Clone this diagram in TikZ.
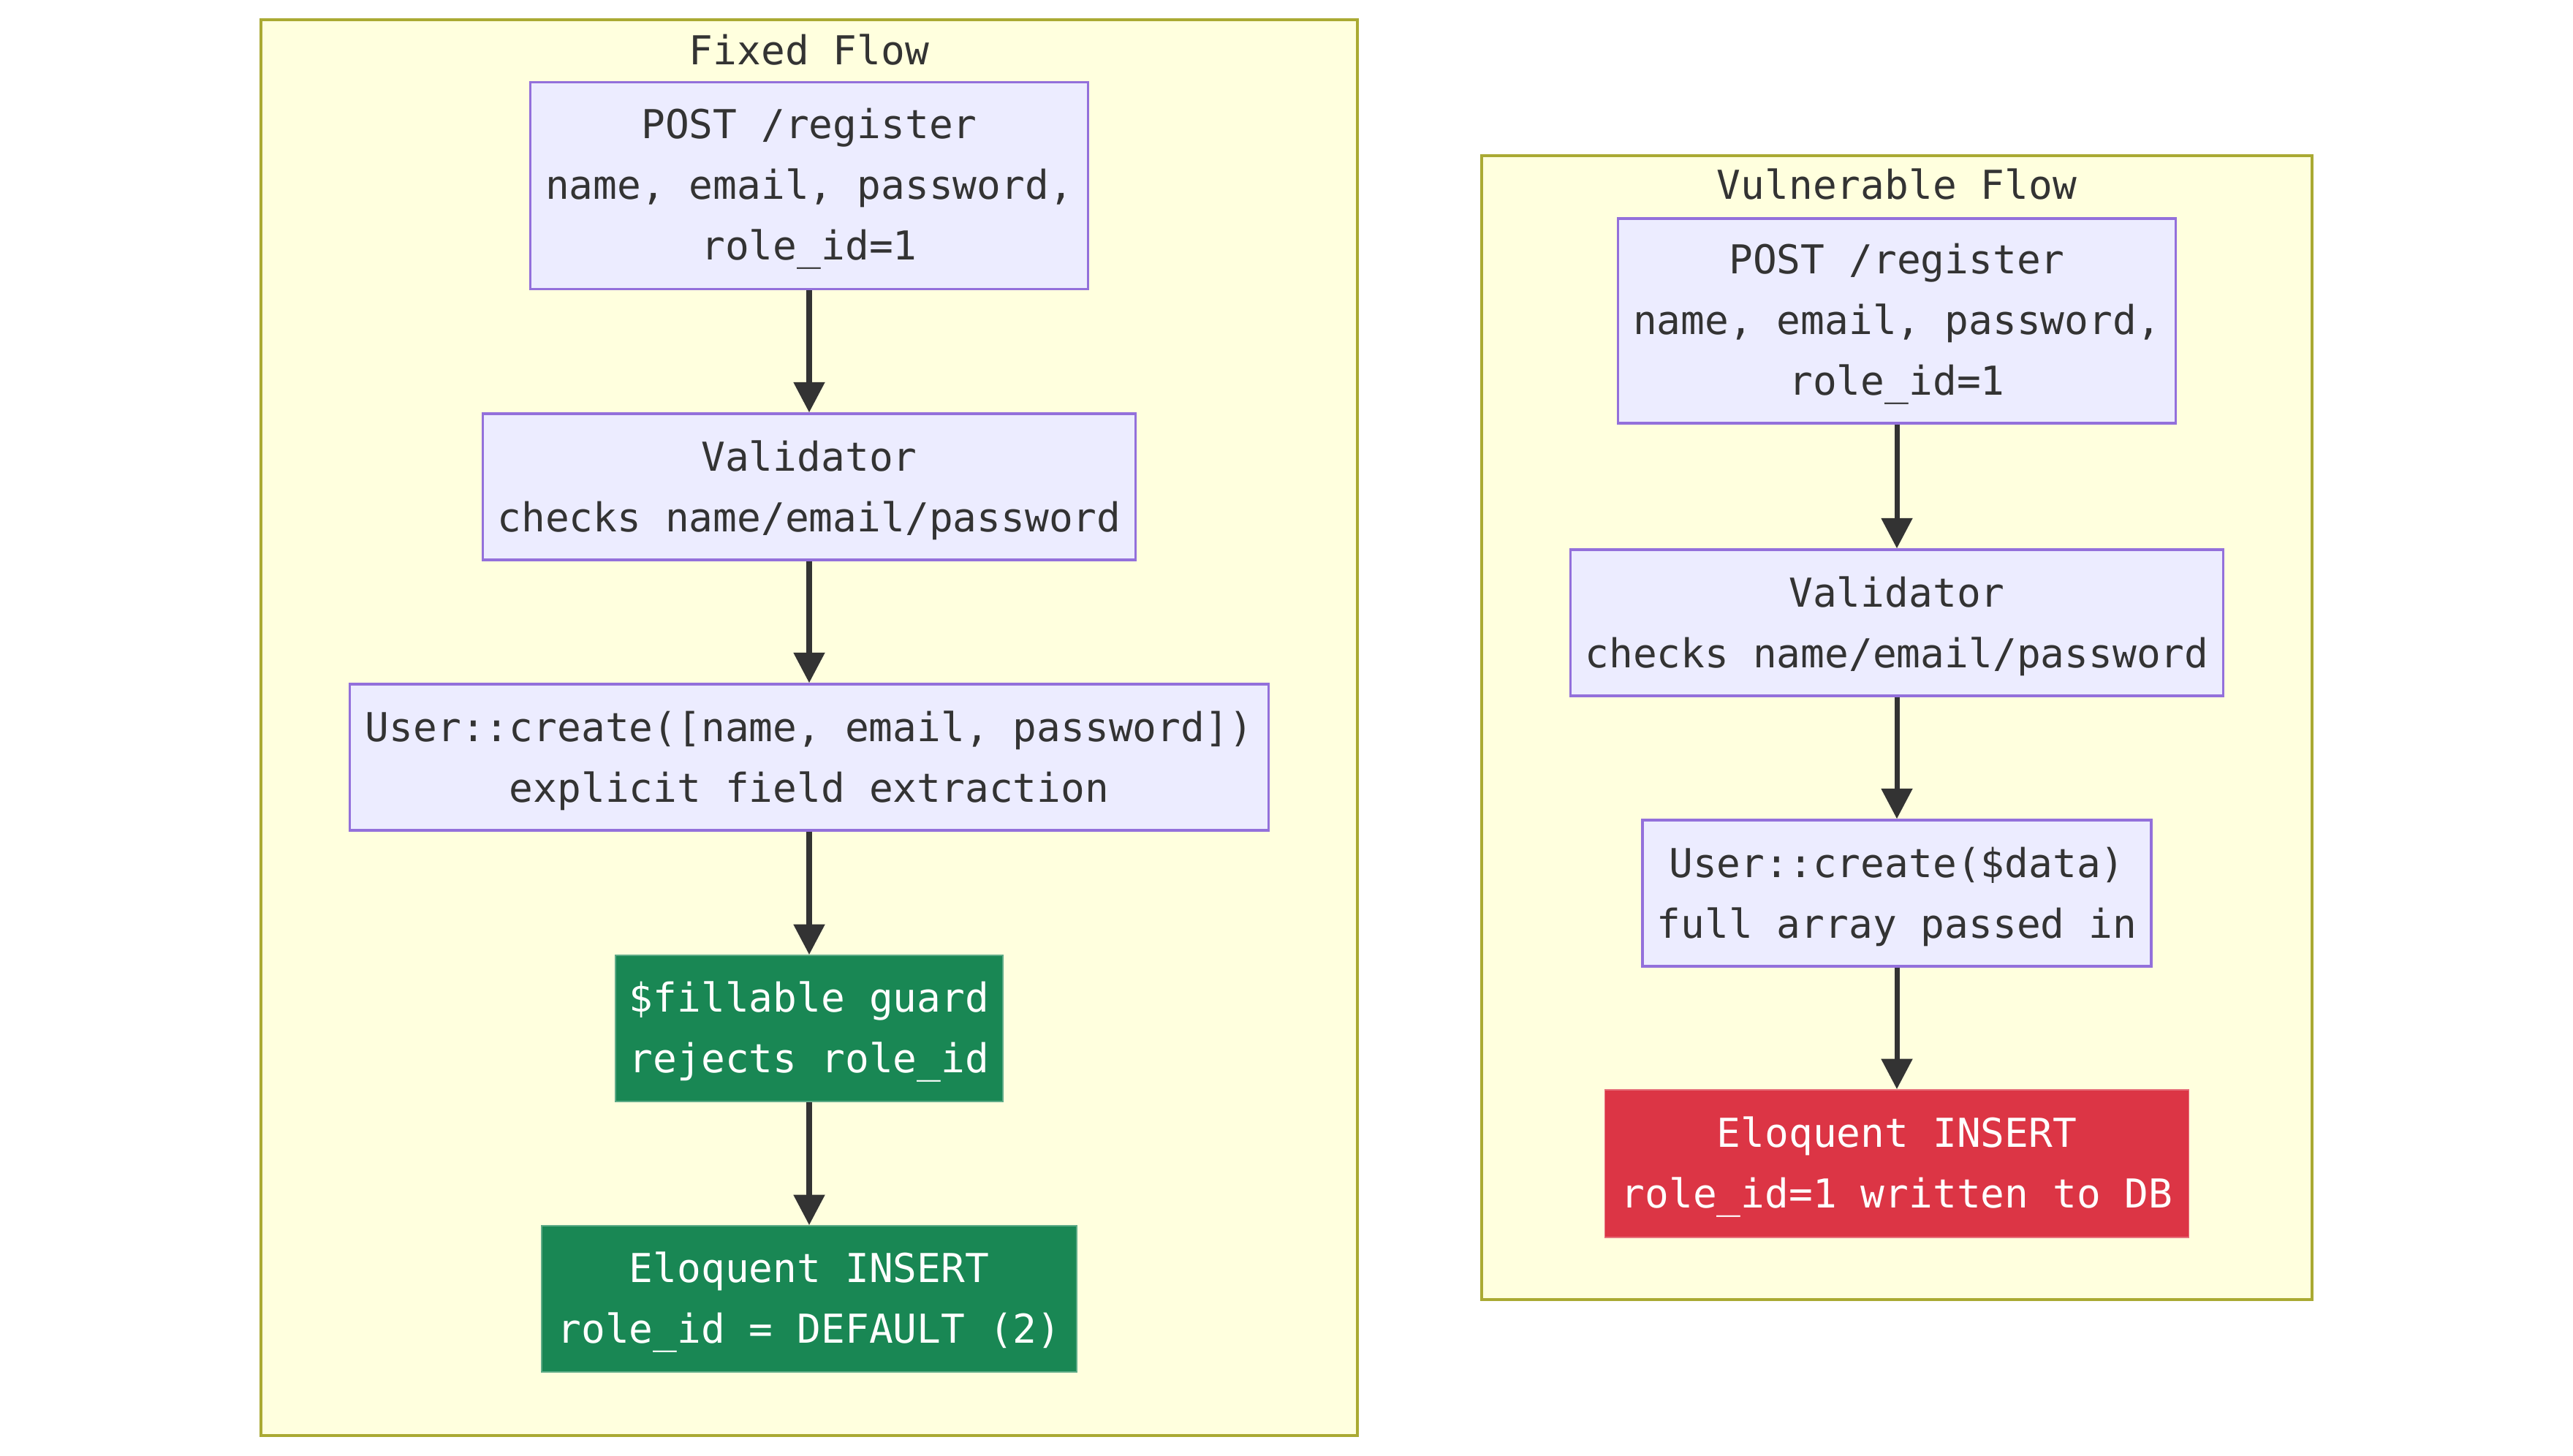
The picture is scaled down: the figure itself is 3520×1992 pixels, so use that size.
\documentclass[tikz,border=0pt]{standalone}
\usepackage{fontspec}
\setmonofont{DejaVu Sans Mono}
\usetikzlibrary{arrows.meta}
\definecolor{nodefill}{HTML}{ECECFF}
\definecolor{nodeline}{HTML}{9370DB}
\definecolor{clfill}{HTML}{FFFFDE}
\definecolor{clline}{HTML}{AAAA33}
\definecolor{txt}{HTML}{333333}
\definecolor{okgreen}{HTML}{198754}
\definecolor{badred}{HTML}{DC3545}
\newcommand{\fstrut}{\rule{0pt}{14.4pt}}
\tikzset{
  base/.style={align=center, inner sep=0pt, font=\ttfamily\fontsize{15.5pt}{23.6pt}\selectfont},
  proc/.style={base, draw=nodeline, fill=nodefill, line width=0.95pt, text=txt},
  good/.style={base, fill=okgreen, draw=okgreen!70!white, line width=0.5pt, text=white},
  bad/.style={base, fill=badred, draw=badred!70!white, line width=0.5pt, text=white},
  cluster/.style={draw=clline, fill=clfill, line width=0.9pt},
  ctitle/.style={base, text=txt},
  flow/.style={draw=txt, line width=2pt, -{Triangle[length=11.8pt, width=11.8pt]}}
}
\begin{document}
\begin{tikzpicture}[x=0.01cm, y=-0.01cm]
\useasboundingbox[fill=white] (0,0) rectangle (3520,1992);
% clusters
\draw[cluster] (357,27) rectangle (1857,1964);
\node[ctitle] (t1) at (1107,68) {Fixed Flow};
\draw[cluster] (2027,213) rectangle (3163,1778);
\node[ctitle] (t2) at (2595,252) {Vulnerable Flow};
% fixed flow
\node[proc, minimum width=763*0.01cm, minimum height=283*0.01cm] (a1) at (1107,254) {\fstrut POST /register\\name, email, password,\\role\_id=1};
\node[proc, minimum width=893*0.01cm, minimum height=200*0.01cm] (a2) at (1107,666) {\fstrut Validator\\checks name/email/password};
\node[proc, minimum width=1257*0.01cm, minimum height=200*0.01cm] (a3) at (1107,1036) {\fstrut User::create([name, email, password])\\explicit field extraction};
\node[good, minimum width=530*0.01cm, minimum height=200*0.01cm] (a4) at (1107,1407) {\fstrut \$fillable guard\\rejects role\_id};
\node[good, minimum width=732*0.01cm, minimum height=200*0.01cm] (a5) at (1107,1777) {\fstrut Eloquent INSERT\\role\_id = DEFAULT (2)};
% vulnerable flow
\node[proc, minimum width=763*0.01cm, minimum height=280*0.01cm] (b1) at (2595,439) {\fstrut POST /register\\name, email, password,\\role\_id=1};
\node[proc, minimum width=893*0.01cm, minimum height=200*0.01cm] (b2) at (2595,852) {\fstrut Validator\\checks name/email/password};
\node[proc, minimum width=696*0.01cm, minimum height=200*0.01cm] (b3) at (2595,1222) {\fstrut User::create(\$data)\\full array passed in};
\node[bad, minimum width=799*0.01cm, minimum height=202*0.01cm] (b4) at (2595,1592) {\fstrut Eloquent INSERT\\role\_id=1 written to DB};
% connectors
\draw[flow] (a1) -- (a2);
\draw[flow] (a2) -- (a3);
\draw[flow] (a3) -- (a4);
\draw[flow] (a4) -- (a5);
\draw[flow] (b1) -- (b2);
\draw[flow] (b2) -- (b3);
\draw[flow] (b3) -- (b4);
\end{tikzpicture}
\end{document}
